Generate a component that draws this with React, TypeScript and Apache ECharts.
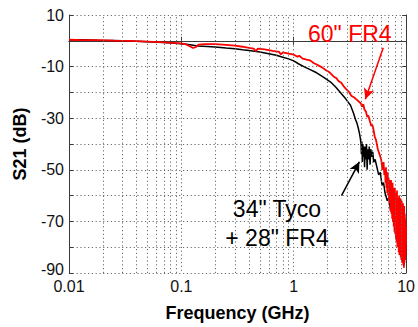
import React, { useEffect, useRef } from "react";
import * as echarts from "echarts";

const FONT = "'Liberation Sans', Arial, Helvetica, sans-serif";

// 34" Tyco + 28" FR4 (black)
const blackFreq = [0.01, 0.013, 0.018, 0.025, 0.035, 0.05, 0.07, 0.1, 0.12, 0.14, 0.17, 0.2, 0.25, 0.3, 0.35, 0.4, 0.5, 0.6, 0.7, 0.8, 0.9, 1.0, 1.1, 1.23, 1.4, 1.6, 1.85, 2.13, 2.35, 2.6, 2.9, 3.2, 3.4, 3.54, 3.66, 3.76, 3.85, 3.92, 3.97, 4.0, 4.04, 4.08, 4.12, 4.17, 4.22, 4.27, 4.32, 4.38, 4.44, 4.5, 4.56, 4.63, 4.7, 4.78, 4.85, 4.95, 5.05, 5.15, 5.3, 5.5, 5.7, 5.9, 6.1, 6.3, 6.5, 6.8, 7.0, 7.3, 7.6, 7.9, 8.2, 8.5, 8.7, 8.9, 9.1, 9.3, 9.45, 9.6, 9.75, 9.9, 10];
const blackDb = [0.3, 0.4, 0.2, 0.1, -0.1, -0.4, -0.7, -1.1, -1.5, -2.0, -2.2, -2.4, -2.8, -3.1, -3.5, -3.8, -4.3, -5.0, -5.6, -6.4, -7.0, -7.8, -8.9, -10, -11.2, -12.4, -14.2, -16, -17.8, -20, -22.5, -25, -28, -30.4, -32, -34, -36, -38, -40, -44, -39, -47, -40, -45, -41, -49, -41, -46, -40, -50, -42, -46, -41, -48, -42, -45, -43, -47, -46, -49, -52, -51, -56, -55, -59, -62, -61, -66, -65, -70, -68, -75, -72, -80, -74, -84, -76, -87, -78, -83, -79];

// 60" FR4 (red)
const redFreq = [0.01, 0.013, 0.018, 0.025, 0.035, 0.05, 0.07, 0.1, 0.11, 0.12, 0.127, 0.135, 0.142, 0.16, 0.2, 0.25, 0.3, 0.35, 0.4, 0.44, 0.46, 0.48, 0.55, 0.65, 0.74, 0.77, 0.8, 0.9, 1.0, 1.08, 1.12, 1.2, 1.3, 1.4, 1.5, 1.6, 1.7, 1.8, 1.95, 2.05, 2.15, 2.26, 2.4, 2.5, 2.65, 2.8, 2.94, 3.1, 3.25, 3.45, 3.61, 3.8, 3.95, 4.05, 4.16, 4.25, 4.4, 4.5, 4.61, 4.75, 4.9, 5.0, 5.1, 5.25, 5.4, 5.6, 5.8, 6.0, 6.15, 6.3, 6.4,
  6.5, 6.56, 6.62, 6.68, 6.74, 6.8, 6.86, 6.92, 6.98, 7.04, 7.1, 7.16, 7.22, 7.28, 7.34, 7.4, 7.46, 7.52, 7.58, 7.64, 7.7, 7.76, 7.82, 7.88, 7.94, 8.0, 8.06, 8.12, 8.18, 8.24, 8.3, 8.36, 8.42, 8.48, 8.54, 8.6, 8.66, 8.72, 8.78, 8.84, 8.9, 8.96, 9.02, 9.08, 9.14, 9.2, 9.26, 9.32, 9.38, 9.44, 9.5, 9.56, 9.62, 9.68, 9.74, 9.8, 9.86, 9.92, 10];
const redDb = [0.4, 0.3, 0.3, 0.1, 0, -0.3, -0.6, -1.0, -1.4, -2.2, -2.8, -2.4, -1.5, -1.3, -1.3, -1.6, -1.9, -2.3, -2.7, -3.0, -4.0, -3.0, -3.3, -3.9, -4.3, -5.3, -4.5, -5.0, -5.4, -6.2, -5.8, -6.9, -7.3, -7.6, -8.6, -9.2, -9.8, -10.4, -11.5, -12.0, -12.8, -13.8, -14.5, -15.6, -16.3, -17.8, -18.8, -19.8, -21.3, -22.0, -22.7, -23.6, -24.2, -25.5, -24.6, -26.5, -27.5, -29.5, -29, -31, -33, -32.5, -34, -37, -38.5, -42, -44, -46, -50, -47, -52,
  -50, -55, -49, -57, -51, -59, -51, -60, -53, -62, -54, -63, -55, -66, -54, -67, -56, -69, -55, -70, -57, -72, -58, -74, -57, -75, -59, -77, -60, -78, -58, -80, -61, -79, -62, -82, -60, -83, -63, -81, -61, -84, -64, -85, -62, -86, -65, -84, -63, -87, -66, -88, -64, -86, -67, -85, -69, -83, -72];

const xTicks = [0.01, 0.1, 1, 10];
const minorGridFreqs = [0.02, 0.03, 0.04, 0.05, 0.06, 0.07, 0.08, 0.09, 0.2, 0.3, 0.4, 0.5, 0.6, 0.7, 0.8, 0.9, 2, 3, 4, 5, 6, 7, 8, 9];
const yLabelValues = [10, -10, -30, -50, -70, -90];

// annotation arrows [fromFreq, fromDb, toFreq, toDb]
const redArrow = [6.26, -2.7, 4.34, -22.7];
const blackArrow = [2.66, -60, 3.84, -46.9];

const redLabel = '60" FR4';
const blackLabel = ['34" Tyco', '+ 28" FR4'];

const zip = (a: number[], b: number[]) => a.map((v, i) => [v, b[i]]);

export default function App() {
  const ref = useRef<HTMLDivElement>(null);
  useEffect(() => {
    if (!ref.current) return;
    const chart = echarts.init(ref.current, null, { renderer: "svg" });
    const gridStyle = { color: "#6a6a6a", width: 1, type: [1.2, 2.6] as any };
    const axisLineStyle = { color: "#3a3a3a", width: 1 };
    const fmtX = (v: number) => {
      const r = Number(v.toPrecision(2));
      return xTicks.some((t) => Math.abs(t - r) < 1e-9) ? String(r) : "";
    };
    chart.setOption({
      animation: false,
      backgroundColor: "#fff",
      textStyle: { fontFamily: FONT },
      grid: { left: 69, right: 11, top: 15, bottom: 52, containLabel: false },
      xAxis: [
        {
          type: "log",
          logBase: 10,
          min: 0.01,
          max: 10,
          name: "Frequency (GHz)",
          nameLocation: "middle",
          nameGap: 31,
          nameTextStyle: { fontFamily: FONT, fontSize: 18, fontWeight: "bold", color: "#000" },
          axisLine: { show: true, lineStyle: axisLineStyle },
          axisTick: { show: true, inside: true, length: 4, lineStyle: axisLineStyle },
          axisLabel: { fontFamily: FONT, fontSize: 16, color: "#111", margin: 5, formatter: fmtX },
          splitLine: { show: true, lineStyle: gridStyle },
        },
        {
          type: "log",
          logBase: 10,
          min: 0.01,
          max: 10,
          position: "top",
          axisLine: { show: true, lineStyle: axisLineStyle },
          axisTick: { show: true, inside: true, length: 4, lineStyle: axisLineStyle },
          axisLabel: { show: false },
          splitLine: { show: false },
        },
      ],
      yAxis: [
        {
          type: "value",
          min: -90,
          max: 10,
          interval: 10,
          name: "S21 (dB)",
          nameLocation: "middle",
          nameGap: 40,
          nameTextStyle: { fontFamily: FONT, fontSize: 18, fontWeight: "bold", color: "#000" },
          axisLine: { show: true, lineStyle: axisLineStyle },
          axisTick: { show: true, inside: true, length: 4, lineStyle: axisLineStyle },
          axisLabel: {
            fontFamily: FONT,
            fontSize: 16,
            color: "#111",
            margin: 5,
            formatter: (v: number) =>
              v === -90 ? "{up|-90}" : yLabelValues.includes(v) ? String(v) : "",
            rich: {
              up: { fontFamily: FONT, fontSize: 16, color: "#111", padding: [0, 0, 8, 0] },
            },
          },
          splitLine: { show: true, lineStyle: gridStyle },
        },
        {
          type: "value",
          min: -90,
          max: 10,
          interval: 10,
          position: "right",
          axisLine: { show: true, lineStyle: axisLineStyle },
          axisTick: { show: true, inside: true, length: 4, lineStyle: axisLineStyle },
          axisLabel: { show: false },
          splitLine: { show: false },
        },
      ],
      graphic: [
        {
          type: "text",
          left: 308,
          top: 22,
          style: { text: redLabel, fill: "#ff0000", font: `23px ${FONT}` },
          z: 10,
        },
        {
          type: "text",
          x: 277,
          y: 209,
          style: { text: blackLabel[0], fill: "#000", font: `23px ${FONT}`, align: "center", verticalAlign: "middle" },
          z: 10,
        },
        {
          type: "text",
          x: 277,
          y: 238,
          style: { text: blackLabel[1], fill: "#000", font: `23px ${FONT}`, align: "center", verticalAlign: "middle" },
          z: 10,
        },
      ],
      series: [
        {
          type: "line",
          data: [],
          silent: true,
          z: 1,
          markLine: {
            silent: true,
            symbol: ["none", "none"],
            label: { show: false },
            lineStyle: gridStyle,
            data: minorGridFreqs.map((f) => ({ xAxis: f })),
          },
        },
        {
          name: "34\" Tyco + 28\" FR4",
          type: "line",
          data: zip(blackFreq, blackDb),
          showSymbol: false,
          symbol: "none",
          lineStyle: { color: "#000", width: 1.5 },
          z: 3,
          markLine: {
            silent: true,
            symbol: ["none", "arrow"],
            symbolSize: [8, 11],
            label: { show: false },
            lineStyle: { color: "#000", width: 1.5, type: "solid" },
            data: [[{ coord: [blackArrow[0], blackArrow[1]] }, { coord: [blackArrow[2], blackArrow[3]] }]],
          },
        },
        {
          name: "60\" FR4",
          type: "line",
          data: zip(redFreq, redDb),
          showSymbol: false,
          symbol: "none",
          lineStyle: { color: "#ff0000", width: 1.8 },
          z: 4,
          markLine: {
            silent: true,
            symbol: ["none", "arrow"],
            symbolSize: [8, 11],
            label: { show: false },
            lineStyle: { color: "#ff0000", width: 1.5, type: "solid" },
            data: [[{ coord: [redArrow[0], redArrow[1]] }, { coord: [redArrow[2], redArrow[3]] }]],
          },
        },
      ],
    });
    return () => chart.dispose();
  }, []);
  return <div ref={ref} style={{ width: 418, height: 327, position: "absolute", left: 0, top: 0 }} />;
}
